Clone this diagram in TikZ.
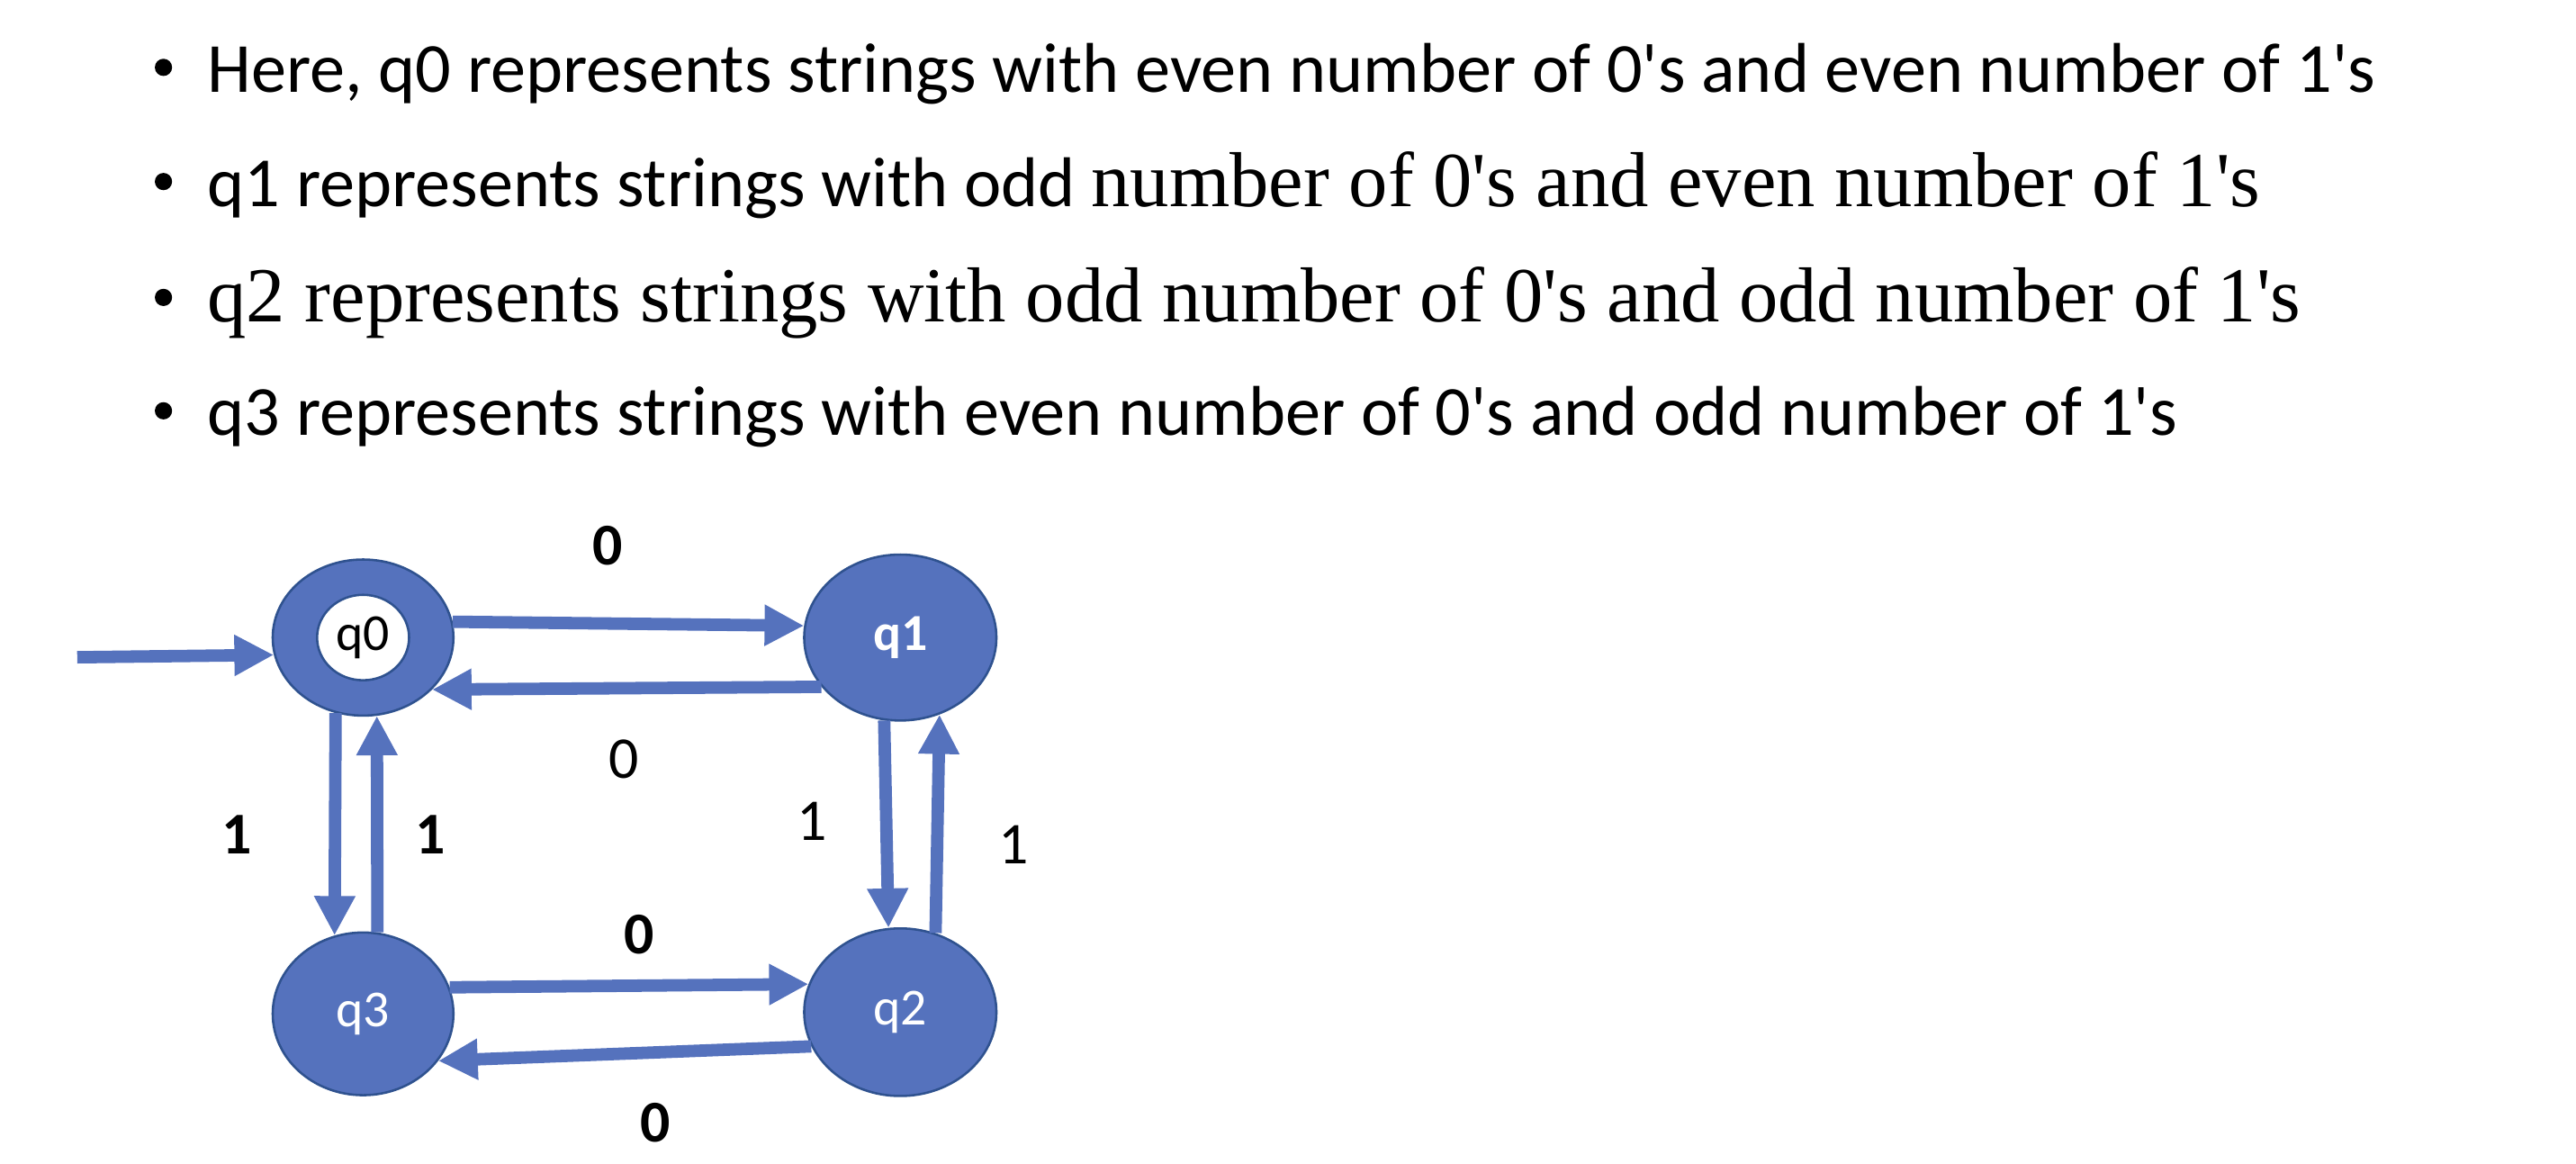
\documentclass[tikz,border=0pt]{standalone}
\usepackage{fontspec}
\setmainfont{Carlito}
\newfontfamily\georgia{Liberation Serif}
\usetikzlibrary{shapes.geometric,arrows.meta}
\definecolor{stateblue}{RGB}{85,114,189}
\definecolor{stateline}{RGB}{47,82,143}
\newcommand{\qs}{\textquotesingle}
\newcommand{\serifpart}{\georgia\fontsize{27}{31}\selectfont}

\tikzset{
  state/.style={ellipse, fill=stateblue, draw=stateline, line width=0.8pt,
    text=white, font=\fontsize{18}{21}\selectfont},
  trans/.style={stateblue, line width=4.3pt, -{Triangle[width=0.47cm,length=0.48cm]}},
  bulletdot/.style={circle, fill=black, inner sep=0pt, minimum size=0.21cm},
  bullettext/.style={anchor=base west, inner sep=0pt, font=\fontsize{24.4}{29}\selectfont},
  edgelabel/.style={font=\fontsize{20.5}{24}\selectfont},
  edgebold/.style={font=\fontsize{20.5}{24}\selectfont\bfseries},
}

\begin{document}
\begin{tikzpicture}
    \useasboundingbox (0,0) rectangle (31.36,14.16);
    % Bullet list
    \node[bulletdot] (b1) at (1.99,13.34) {};
    \node[bullettext] (t1) at (2.52,13.04) {Here, q0 represents strings with even number of 0\qs s and even number of 1\qs s};
    \node[bulletdot] (b2) at (1.99,11.95) {};
    \node[bullettext] (t2) at (2.52,11.65) {q1 represents strings with odd {\serifpart number of 0\qs s and even number of 1\qs s}};
    \node[bulletdot] (b3) at (1.99,10.54) {};
    \node[bullettext] (t3) at (2.52,10.24) {\serifpart q2 represents strings with odd number of 0\qs s and odd number of 1\qs s};
    \node[bulletdot] (b4) at (1.99,9.16) {};
    \node[bullettext] (t4) at (2.52,8.86) {q3 represents strings with even number of 0\qs s and odd number of 1\qs s};

    % States
    \node[state, minimum width=2.2cm, minimum height=1.9cm] (q0) at (4.42,6.40) {};
    \node[ellipse, fill=white, draw=stateline, line width=0.8pt, inner sep=0pt,
      minimum width=1.12cm, minimum height=1.04cm, font=\fontsize{18}{21}\selectfont] (q0in) at (q0) {q0};
    \node[state, minimum width=2.34cm, minimum height=2.02cm,
      font=\fontsize{18}{21}\selectfont\bfseries] (q1) at (10.96,6.40) {q1};
    \node[state, minimum width=2.34cm, minimum height=2.04cm] (q2) at (10.96,1.84) {q2};
    \node[state, minimum width=2.2cm, minimum height=1.98cm] (q3) at (4.42,1.82) {q3};

    % Transitions
    \coordinate (start) at (0.94,6.16);
    \draw[trans] (start) -- (q0.191);
    \draw[trans] (q0.10) -- (q1.173);
    \draw[trans] (q1.212) -- (q0.323);
    \draw[trans] (q0.250) -- (q3.110);
    \draw[trans] (q3.80) -- (q0.280);
    \draw[trans] (q1.259) -- (q2.98);
    \draw[trans] (q2.66) -- (q1.297);
    \draw[trans] (q3.17) -- (q2.163);
    \draw[trans] (q2.201) -- (q3.328);

    % Labels
    \node[edgebold] (l01) at (7.40,7.52) {0};
    \node[edgelabel] (l10) at (7.60,4.92) {0};
    \node[edgebold] (l03) at (2.88,4.00) {1};
    \node[edgebold] (l30) at (5.24,4.00) {1};
    \node[edgelabel] (l12) at (9.88,4.16) {1};
    \node[edgelabel] (l21) at (12.34,3.88) {1};
    \node[edgebold] (l32) at (7.78,2.78) {0};
    \node[edgebold] (l23) at (7.98,0.50) {0};
\end{tikzpicture}
\end{document}
